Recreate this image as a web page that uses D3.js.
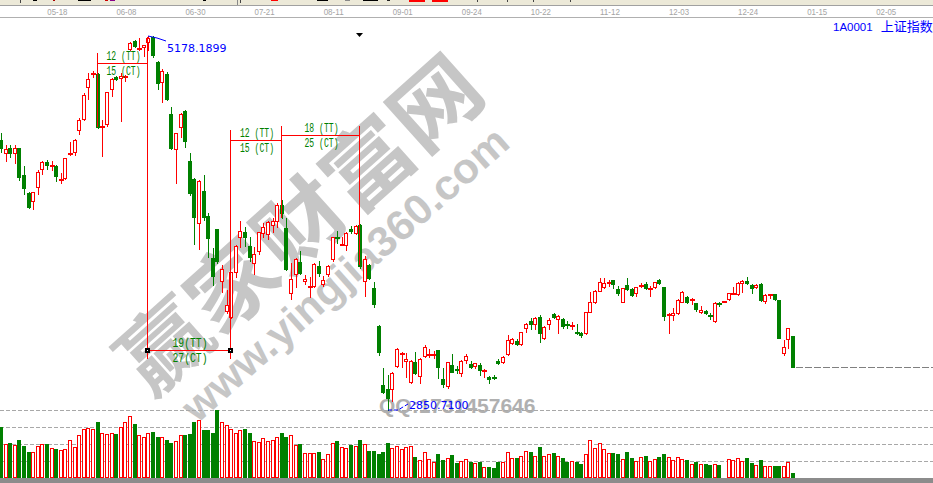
<!DOCTYPE html>
<html><head><meta charset="utf-8">
<script src="https://cdn.jsdelivr.net/npm/d3@7/dist/d3.min.js"></script>
<style>html,body{margin:0;padding:0;background:#fff;overflow:hidden}svg{display:block}</style>
</head><body>
<script>
// ---------- data (Shanghai Composite 1A0001, daily, 2015-04-28 .. 2016-01-07) ----------
const open = [4531,4450,4481,4450,4481,4313,4202,4152,4239,4351,4394,4370,4370,4282,4295,4444,4457,4593,4662,4861,
4942,4942,4612,4631,4848,4923,4917,4923,5097,5147,5097,5110,5141,5172,5016,4892,4942,4693,4475,4612,
4712,4401,4289,4015,4214,4058,3797,3978,3654,3468,3430,3710,3928,3959,3872,3766,3841,3953,3946,4002,
4027,4127,3984,3580,3698,3772,3654,3617,3623,3747,3636,3698,3791,3928,3878,3878,3978,3953,4002,3654,
3754,3611,3374,3007,2982,2982,3125,3200,3157,3026,3150,3063,3188,3194,3194,3225,3045,3001,3132,3107,
3082,3163,3138,3125,3132,3094,3057,3055,3157,3150,3200,3268,3281,3262,3362,3405,3387,3430,3300,3387,
3449,3418,3418,3383,3374,3337,3331,3331,3461,3524,3592,3617,3642,3660,3604,3524,3629,3604,3580,3623,
3636,3604,3617,3660,3617,3443,3443,3455,3524,3555,3536,3517,3461,3468,3443,3405,3517,3524,3542,3573,
3573,3642,3654,3629,3617,3636,3530,3567,3573,3536,3206,3293,3312];
const close = [4481,4475,4450,4481,4301,4233,4114,4208,4332,4394,4376,4376,4307,4289,4419,4450,4531,4656,4811,4911,
4948,4612,4618,4830,4911,4911,4929,4929,5135,5116,5103,5122,5166,5060,4886,4960,4786,4481,4575,4693,
4525,4202,4052,4276,4052,3922,3685,3779,3729,3505,3710,3872,3965,3928,3803,3822,3959,3990,4021,4027,
4127,4077,3729,3667,3791,3704,3667,3623,3760,3704,3660,3747,3928,3922,3884,3953,3965,3996,3747,3791,
3673,3511,3213,2964,2926,3082,3231,3206,3169,3157,3082,3169,3244,3200,3200,3119,3014,3150,3088,3101,
3157,3188,3119,3144,3101,3101,3045,3050,3144,3181,3287,3293,3262,3337,3387,3387,3424,3331,3368,3412,
3430,3436,3374,3378,3380,3331,3318,3461,3524,3592,3648,3642,3648,3636,3580,3611,3604,3567,3617,3629,
3611,3611,3648,3642,3436,3449,3455,3536,3586,3524,3542,3480,3474,3455,3436,3517,3511,3530,3580,3580,
3642,3654,3642,3611,3629,3536,3567,3573,3542,3300,3244,3362,3119];
const high = [4575,4500,4500,4500,4481,4370,4208,4208,4345,4401,4407,4401,4376,4326,4419,4519,4537,4668,4824,4948,
4960,4948,4656,4830,4917,4929,4948,4935,5141,5153,5166,5122,5178.1899,5176,5023,4973,4954,4736,4575,4699,
4718,4450,4295,4282,4313,4077,3859,3978,3754,3598,3710,3878,4027,3990,3928,3866,3959,4015,4027,4046,
4139,4158,4046,3766,3797,3841,3692,3679,3766,3779,3685,3754,3928,3965,3928,3959,3996,4002,4009,3810,
3760,3648,3380,3113,3070,3088,3237,3213,3206,3163,3213,3175,3256,3231,3219,3225,3113,3150,3200,3125,
3163,3200,3157,3144,3144,3107,3063,3070,3169,3188,3318,3300,3293,3337,3393,3424,3430,3443,3374,3424,
3455,3443,3424,3405,3399,3387,3337,3461,3586,3598,3673,3673,3660,3660,3623,3611,3673,3611,3617,3642,
3648,3623,3648,3667,3617,3455,3486,3542,3592,3561,3548,3517,3499,3474,3455,3524,3524,3530,3580,3617,
3648,3660,3679,3636,3636,3642,3573,3573,3573,3536,3287,3362,3312];
const low = [4457,4401,4425,4388,4282,4195,4108,4102,4195,4320,4351,4345,4276,4264,4289,4438,4438,4568,4656,4786,
4923,4606,4432,4618,4805,4904,4649,4898,5091,5110,5091,5054,5091,5047,4848,4768,4780,4475,4264,4550,
4488,4189,3884,3853,4034,3803,3629,3766,3586,3455,3424,3679,3866,3872,3779,3698,3822,3928,3915,3959,
3990,4046,3723,3542,3617,3698,3636,3555,3617,3685,3623,3685,3779,3891,3878,3847,3953,3946,3735,3561,
3667,3492,3194,2958,2850.71,2908,3119,3119,3057,3020,3076,3020,3181,3181,3175,3051,2995,2989,3088,3082,
3063,3144,3113,3113,3070,3057,3020,3045,3138,3144,3194,3262,3256,3256,3337,3356,3356,3275,3293,3356,
3424,3331,3362,3362,3356,3324,3306,3324,3461,3517,3592,3611,3623,3611,3567,3524,3598,3561,3561,3617,
3604,3561,3611,3636,3412,3331,3412,3449,3524,3517,3511,3468,3455,3449,3418,3399,3499,3524,3536,3573,
3567,3586,3636,3580,3611,3530,3517,3548,3536,3300,3194,3237,3119];
const volume = [510,340,350,330,380,320,260,260,320,340,340,300,290,280,290,380,310,430,490,500,
490,560,450,440,450,440,510,560,620,540,430,410,450,460,410,410,380,350,370,430,
430,440,560,580,480,480,450,680,560,530,490,450,480,490,450,370,360,400,370,380,
410,450,410,430,330,340,250,250,250,260,190,240,350,370,310,300,330,320,380,340,
270,270,240,260,350,300,320,290,310,320,210,180,260,190,160,240,180,200,230,150,
170,190,160,150,160,110,110,100,160,160,260,200,200,220,270,260,220,310,220,240,
250,220,200,160,170,160,140,240,380,300,350,290,250,250,240,190,260,200,170,210,
220,170,190,210,240,210,180,210,190,180,140,160,140,140,130,140,130,10,190,180,
200,170,200,150,130,180,120,120,120,120,120,160,50];
const tickIndex  = [13,28,43,58,73,88,103,118,133,148,163,178,193];
const tickLabels = ["05-18","06-08","06-30","07-21","08-11","09-01","09-24","10-22","11-12","12-03","12-24","01-15","02-05"];
const volGrid = [170,340,510,680];
// cycle annotations: from bar, to bar, level of bracket, TT text, CT text
const cycles = [
  {from:21, to:32, level:5010, tt:"12 (TT)", ct:"15 (CT)"},
  {from:32, to:50, level:3225, tt:"19(TT)",  ct:"27(CT)", marks:true},
  {from:50, to:61, level:4531, tt:"12 (TT)", ct:"15 (CT)"},
  {from:61, to:78, level:4562, tt:"18 (TT)", ct:"25 (CT)"}
];
// vertical guide lines: bar, top level, bottom level
const guides = [[21,5072,4612],[32,5172,3169],[50,4593,3169],[61,4618,4046],[78,4618,3754]];
const peakIdx = 32, troughIdx = 84;
const toolbarBits = [[20,1,3,"#444"],[33,4,1,"#000"],[53,2,1,"#a00"],[78,13,1,"#000"],[105,3,1,"#c00"],[110,5,1,"#808"],
  [203,3,1,"#000"],[237,1,5,"#888"],[240,1,3,"#444"],[271,7,1,"#f00"],[317,11,1,"#000"],[345,5,1,"#888"],[363,15,1,"#000"],
  [387,3,1,"#222"],[409,16,2,"#f00"],[432,16,2,"#f00"],[477,1,2,"#444"],[507,1,2,"#444"],[533,1,2,"#444"],[570,1,2,"#444"]];

// ---------- drawing ----------
const W = 933, H = 483;
const RED = "#ff0000", GREEN = "#008000", BLUE = "#0000ff";
const svg = d3.select("body").append("svg").attr("width", W).attr("height", H);
svg.append("rect").attr("width", W).attr("height", H).attr("fill", "#fff");

const x  = d3.scaleLinear().domain([0, 172]).range([1, 793]);
const y  = d3.scaleLinear().domain([2850.71, 5178.19]).range([410, 36]);
const yv = d3.scaleLinear().domain([0, 680]).range([478, 410]);

// top strip
svg.append("rect").attr("x",0).attr("y",0).attr("width",W).attr("height",5).attr("fill","#ece9d8");
svg.append("g").selectAll("rect").data(toolbarBits).join("rect")
  .attr("x",d=>d[0]).attr("y",0).attr("width",d=>d[1]).attr("height",d=>d[2]).attr("fill",d=>d[3]);
svg.append("line").attr("x1",0).attr("x2",W).attr("y1",5.5).attr("y2",5.5).attr("stroke","#a0a0a0");
svg.append("line").attr("x1",0).attr("x2",W).attr("y1",17.5).attr("y2",17.5).attr("stroke","#b0b0b0");

// date axis
const axis = d3.axisTop(x).tickValues(tickIndex).tickFormat((d,i)=>tickLabels[i]).tickSize(0).tickPadding(0);
const ag = svg.append("g").attr("transform","translate(-4,15)").call(axis);
ag.select(".domain").remove();
ag.selectAll("text").attr("fill","#a4a4a4").attr("font-family","Liberation Sans, Arial, sans-serif")
  .attr("font-size","9.5px").attr("textLength",20).attr("lengthAdjust","spacingAndGlyphs");

// watermark (behind data)
const wm = svg.append("g").attr("fill","#bdbdbd").attr("opacity",0.85);
wm.append("text").attr("transform","translate(296,220) rotate(-41.8)")
  .attr("text-anchor","middle").attr("dominant-baseline","central")
  .attr("font-family","Noto Sans CJK SC").attr("font-weight","bold").attr("font-size",84)
  .attr("textLength",455).attr("lengthAdjust","spacingAndGlyphs").text("赢家财富网");
wm.append("text").attr("transform","translate(345,274) rotate(-41.5)")
  .attr("text-anchor","middle").attr("dominant-baseline","central")
  .attr("font-family","Liberation Sans, Arial").attr("font-weight","bold").attr("font-size",42)
  .attr("textLength",420).attr("lengthAdjust","spacingAndGlyphs").text("www.yingjia360.com");
svg.append("text").attr("x",379).attr("y",413).attr("fill","#a8a8a8").attr("opacity",0.9)
  .attr("font-family","Liberation Sans, Arial").attr("font-weight","bold").attr("font-size",21)
  .text("QQ:1731457646");

// volume grid
svg.append("g").selectAll("line").data(volGrid).join("line")
  .attr("x1",0).attr("x2",W).attr("y1",d=>Math.round(yv(d))+0.5).attr("y2",d=>Math.round(yv(d))+0.5)
  .attr("stroke","#a8a8a8").attr("stroke-dasharray","4,2");
svg.append("rect").attr("x",0).attr("y",478).attr("width",W).attr("height",5).attr("fill","#8c8c8c");

// volume bars
const vg = svg.append("g");
volume.forEach((v,i)=>{
  const up = close[i] >= open[i];
  const cx = Math.round(x(i));
  const top = Math.round(yv(v));
  if (up) {
    vg.append("rect").attr("x",cx-1.5).attr("y",top+0.5).attr("width",3).attr("height",Math.max(477.5-top-0.5,0))
      .attr("fill","#fff").attr("stroke",RED).attr("stroke-width",1);
  } else {
    vg.append("rect").attr("x",cx-2).attr("y",top).attr("width",4).attr("height",478-top).attr("fill",GREEN);
  }
});

// candles
const cg = svg.append("g").attr("shape-rendering","crispEdges");
open.forEach((o,i)=>{
  const c = close[i], h = high[i], l = low[i];
  const up = c >= o;
  const col = up ? RED : GREEN;
  const cx = Math.round(x(i));
  const yt = Math.round(y(Math.max(o,c))), yb = Math.round(y(Math.min(o,c)));
  const yh = Math.round(y(h)), yl = Math.round(y(l));
  const wx = cx + 0.5;
  if (yb - yt < 2) {
    cg.append("line").attr("x1",wx).attr("x2",wx).attr("y1",yh).attr("y2",yl+1).attr("stroke",col);
    cg.append("rect").attr("x",cx-2).attr("y",yt).attr("width",5).attr("height",Math.max(yb-yt,1)+ (yb-yt>=1?1:0)).attr("fill",col);
  } else if (up) {
    if (yh < yt) cg.append("line").attr("x1",wx).attr("x2",wx).attr("y1",yh).attr("y2",yt).attr("stroke",col);
    if (yl > yb) cg.append("line").attr("x1",wx).attr("x2",wx).attr("y1",yb).attr("y2",yl+1).attr("stroke",col);
    cg.append("rect").attr("x",cx-1.5).attr("y",yt+0.5).attr("width",3).attr("height",yb-yt).attr("fill","#fff").attr("stroke",col);
  } else {
    cg.append("line").attr("x1",wx).attr("x2",wx).attr("y1",yh).attr("y2",yl+1).attr("stroke",col);
    cg.append("rect").attr("x",cx-2).attr("y",yt).attr("width",4).attr("height",yb-yt+1).attr("fill",col);
  }
});

// last close dashed line
svg.append("line").attr("x1",Math.round(x(172))+3).attr("x2",W)
  .attr("y1",Math.round(y(close[172]))+0.5).attr("y2",Math.round(y(close[172]))+0.5)
  .attr("stroke","#808080").attr("stroke-width",1).attr("stroke-dasharray","7,2");

// cycle annotations
const an = svg.append("g").attr("shape-rendering","crispEdges");
guides.forEach(g=>{
  const gx = Math.round(x(g[0])) - 0.5;
  an.append("line").attr("x1",gx).attr("x2",gx).attr("y1",Math.round(y(g[1]))).attr("y2",Math.round(y(g[2])))
    .attr("stroke",RED);
});
const tg = svg.append("g").attr("fill",GREEN).attr("font-family","Liberation Mono, DejaVu Sans Mono, monospace")
  .attr("font-size","12.5px").attr("text-anchor","middle");
cycles.forEach(cy=>{
  const x1 = Math.round(x(cy.from)) - 0.5, x2 = Math.round(x(cy.to)) - 0.5;
  const ly = Math.round(y(cy.level)) + 0.5;
  an.append("line").attr("x1",x1).attr("x2",x2).attr("y1",ly).attr("y2",ly).attr("stroke",RED);
  if (cy.marks) {
    [x1,x2].forEach(mx=>{
      an.append("rect").attr("x",mx-2.5).attr("y",ly-2.5).attr("width",5).attr("height",5).attr("fill","#000");
      an.append("rect").attr("x",mx-0.5).attr("y",ly-0.5).attr("width",1).attr("height",1).attr("fill","#fff");
    });
  }
  const mid = (x1+x2)/2 + 1;
  const tl = cy.tt.length > 6 ? 34 : 35;
  tg.append("text").attr("x",mid).attr("y",ly-4).attr("textLength",tl).attr("lengthAdjust","spacingAndGlyphs").text(cy.tt);
  tg.append("text").attr("x",mid).attr("y",ly+11).attr("textLength",tl).attr("lengthAdjust","spacingAndGlyphs").text(cy.ct);
});

// extreme labels
const px = Math.round(x(peakIdx)), py = Math.round(y(high[peakIdx]));
svg.append("path").attr("d",`M${px},${py} L${px+9},${py+2} L${px+18},${py+5}`)
  .attr("fill","none").attr("stroke",BLUE).attr("stroke-width",1);
svg.append("text").attr("x",px+19).attr("y",py+16).attr("fill",BLUE)
  .attr("font-family","DejaVu Sans, sans-serif").attr("font-size","11px").text(d3.format(".4f")(high[peakIdx]));
const tx = Math.round(x(troughIdx)), ty = Math.round(y(low[troughIdx]));
svg.append("path").attr("d",`M${tx},${ty} L${tx+10},${ty} L${tx+20},${ty-6}`)
  .attr("fill","none").attr("stroke",BLUE).attr("stroke-width",1).attr("stroke-dasharray","4,2");
svg.append("text").attr("x",tx+21).attr("y",ty-1).attr("fill",BLUE)
  .attr("font-family","DejaVu Sans, sans-serif").attr("font-size","11px").text(d3.format(".4f")(low[troughIdx]));

// cursor marker & title
svg.append("path").attr("d","M356,33 L363,33 L359.5,37 Z").attr("fill","#000");
const tt = svg.append("text").attr("x",833).attr("y",31).attr("fill",BLUE);
tt.append("tspan").attr("font-family","Liberation Sans, Arial").attr("font-size","11.5px").text("1A0001");
tt.append("tspan").attr("dx",8).attr("font-family","Noto Sans CJK SC").attr("font-size","13px").text("上证指数");
</script>
</body></html>
